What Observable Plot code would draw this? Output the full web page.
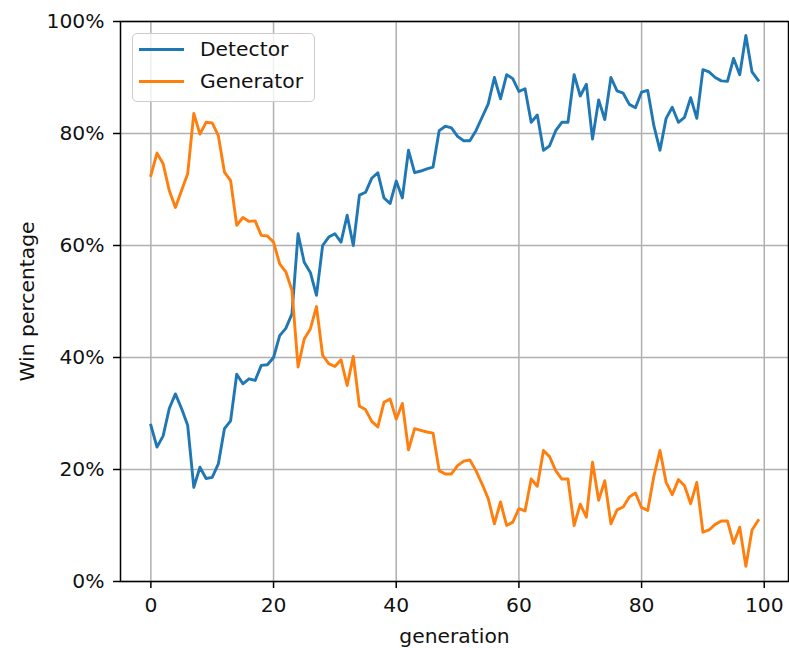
<!DOCTYPE html>
<html>
<head>
<meta charset="utf-8">
<script src="https://cdn.jsdelivr.net/npm/d3@7"></script>
<script src="https://cdn.jsdelivr.net/npm/@observablehq/plot@0.6"></script>
<style>
  html, body { margin: 0; padding: 0; background: #fff; }
  #wrap { position: relative; width: 789px; height: 648px; font-family: "DejaVu Sans", sans-serif; }
  #legend { position: absolute; left: 132px; top: 33px; width: 181px; height: 67px;
    border: 1.5px solid #cccccc; border-radius: 5px; background: rgba(255,255,255,0.8);
    font-size: 20.3px; color: #111; }
  .entry { position: absolute; left: 0; height: 24px; }
  .swatch { position: absolute; left: 6px; width: 45px; height: 3px; }
  .lab { position: absolute; left: 67px; white-space: nowrap; line-height: 24px; top: -12px; }
</style>
</head>
<body>
<div id="wrap"></div>
<script>
const generations = d3.range(0, 100);
const detector = [
  27.9,24,26,30.9,33.5,30.9,27.9,16.8,20.4,18.4,
  18.6,21,27.3,28.7,37,35.3,36.2,35.9,38.6,38.7,
  40,43.9,45.2,47.8,62.1,57,55.2,51.1,60,61.5,
  62.1,60.6,65.4,60,69,69.5,72,73,68.5,67.5,
  71.5,68.5,77,73,73.3,73.7,74,80.5,81.3,81,
  79.5,78.7,78.7,80.5,82.9,85.3,90,86.2,90.5,89.8,
  87.5,88,82,83.3,77,77.8,80.5,82,82,90.5,
  86.7,88.8,79,86,82.5,90,87.6,87.2,85.2,84.6,
  87.4,87.7,81.4,77,82.7,84.7,82,82.9,86.4,82.7,
  91.4,91,90,89.4,89.3,93.4,90.5,97.5,91,89.5
];
const generator = [
  72.5,76.5,74.6,69.8,66.8,69.8,72.8,83.6,79.9,82,
  81.9,79.6,73.1,71.6,63.6,65,64.3,64.4,61.8,61.7,
  60.6,56.7,55.3,52,38.3,43.3,45.1,49.1,40.4,38.9,
  38.4,39.6,35,40.2,31.3,30.7,28.6,27.6,32,32.6,
  29,31.8,23.5,27.3,27,26.7,26.5,19.8,19.2,19.2,
  20.7,21.5,21.7,19.8,17.4,14.8,10.3,14.2,10,10.6,
  13,12.6,18.3,17,23.4,22.3,19.8,18.3,18.3,10,
  13.8,11.5,21.3,14.5,18,10.3,12.8,13.3,15.1,15.8,
  13.2,12.7,18.8,23.4,17.7,15.5,18.2,17.1,13.9,17.7,
  8.8,9.2,10.2,10.8,10.8,6.8,9.7,2.7,9.2,10.9
];
const seriesNames = ["Detector", "Generator"];
const seriesColors = ["#1f77b4", "#ff7f0e"];
const xTicks = [0, 20, 40, 60, 80, 100];
const yTicks = [0, 20, 40, 60, 80, 100];
const xLabel = "generation";
const yLabel = "Win percentage";

const rows = [];
generations.forEach((g, i) => {
  rows.push({gen: g, value: detector[i], series: seriesNames[0]});
  rows.push({gen: g, value: generator[i], series: seriesNames[1]});
});

const chart = Plot.plot({
  width: 789,
  height: 648,
  marginLeft: 120,
  marginRight: 1,
  marginTop: 21,
  marginBottom: 67,
  style: {fontFamily: "DejaVu Sans, sans-serif", fontSize: "20.3px", color: "#111", background: "#fff"},
  x: {domain: [-4.95, 103.95]},
  y: {domain: [0, 100]},
  color: {domain: seriesNames, range: seriesColors},
  marks: [
    Plot.gridX(xTicks, {stroke: "#b0b0b0", strokeOpacity: 1, strokeWidth: 1.5}),
    Plot.gridY(yTicks, {stroke: "#b0b0b0", strokeOpacity: 1, strokeWidth: 1.5}),
    Plot.line(rows, {x: "gen", y: "value", stroke: "series", z: "series", strokeWidth: 2.9, strokeLinejoin: "round", strokeLinecap: "square"}),
    Plot.frame({stroke: "#000", strokeWidth: 1.5}),
    Plot.axisX({ticks: xTicks, tickSize: 7, tickPadding: 9, stroke: "#000", strokeWidth: 1.5,
      label: xLabel, labelAnchor: "center", labelArrow: "none", labelOffset: 61}),
    Plot.axisY({ticks: yTicks, tickSize: 7, tickPadding: 9, stroke: "#000", strokeWidth: 1.5,
      tickFormat: d => d + "%",
      label: yLabel, labelAnchor: "center", labelArrow: "none", labelOffset: 101})
  ]
});

const wrap = document.getElementById("wrap");
wrap.appendChild(chart);

const legend = document.createElement("div");
legend.id = "legend";
seriesNames.forEach((name, i) => {
  const e = document.createElement("div");
  e.className = "entry";
  e.style.top = (15 + i * 32) + "px";
  const sw = document.createElement("div");
  sw.className = "swatch";
  sw.style.background = seriesColors[i];
  sw.style.top = "-1.5px";
  const lb = document.createElement("div");
  lb.className = "lab";
  lb.textContent = name;
  e.appendChild(sw);
  e.appendChild(lb);
  legend.appendChild(e);
});
wrap.appendChild(legend);
</script>
</body>
</html>
